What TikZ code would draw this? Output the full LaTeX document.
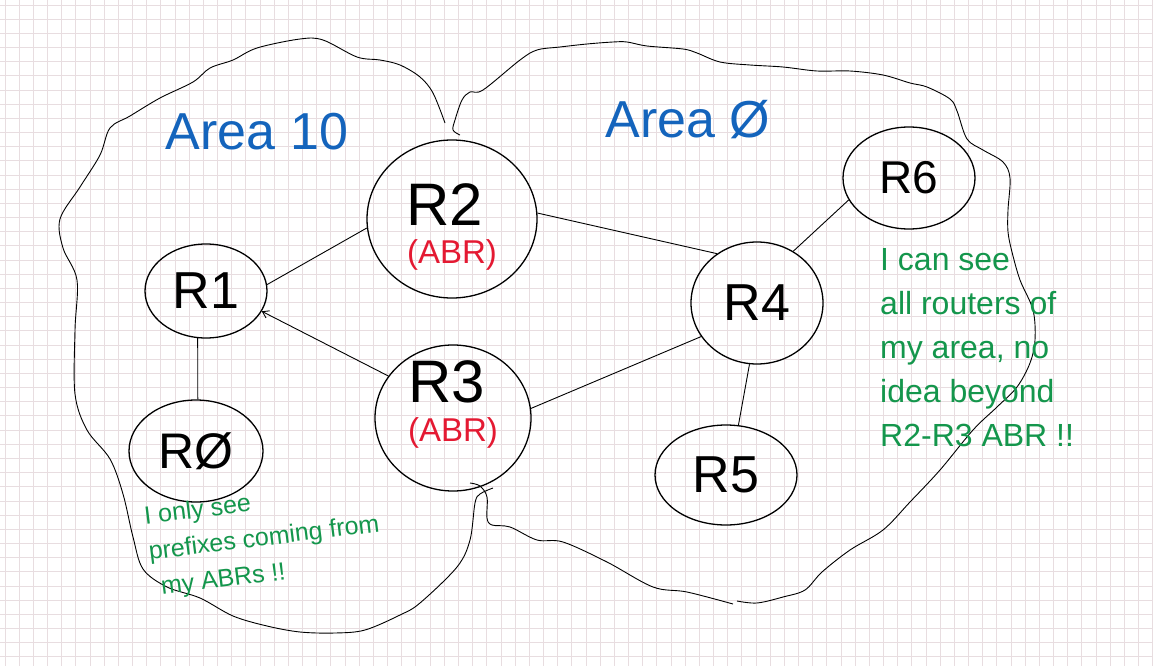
\documentclass[tikz,border=0pt]{standalone}
\usepackage{fontspec}
\setmainfont{Liberation Sans}
\usetikzlibrary{shapes.geometric,arrows.meta}
\definecolor{areablue}{HTML}{1464BC}
\definecolor{abrred}{HTML}{E41932}
\definecolor{notegreen}{HTML}{14964C}
\definecolor{gridpink}{HTML}{E8DDE0}

\begin{document}
\begin{tikzpicture}[x=1pt,y=-1pt,>={Straight Barb[length=6pt,width=8pt]},
  router/.style={ellipse,draw,line width=1.3pt,inner sep=0pt,font=\fontsize{52}{52}\selectfont},
  rname/.style={font=\fontsize{60}{60}\selectfont,inner sep=0pt},
  abr/.style={text=abrred,font=\fontsize{33}{33}\selectfont,inner sep=0pt},
  link/.style={line width=0.9pt},
  border/.style={line width=0.9pt},
  gridline/.style={gridpink,line width=0.9pt},
  areatitle/.style={text=areablue,font=\fontsize{52}{52}\selectfont},
  note/.style={text=notegreen,align=left,inner sep=0pt}]
                \useasboundingbox (0,0) rectangle (1153,666);
                \fill[white] (0,0) rectangle (1153,666);
                \foreach \gx in {0,...,81}
                    \draw[gridline] ({5+14.17*\gx},0) -- ({5+14.17*\gx},666);
                \foreach \gy in {0,...,46}
                    \draw[gridline] (0,{5+14.17*\gy}) -- (1153,{5+14.17*\gy});

                % area 10
                \draw[border] plot[smooth,tension=0.55] coordinates {(445,123) (433,93) (420,77) (400,65) (380,60) (357,57) (323,40) (300,39) (257,48) (233,60) (210,68) (193,82) (160,98) (130,116) (110,128) (100,155) (80,187) (60,219) (63,248) (77,280) (75,330) (75,394) (87,430) (110,459) (123,494) (133,537) (143,569) (167,587) (200,598) (233,616) (267,626) (300,632) (335,633) (365,630) (400,615) (420,603) (457,567) (470,540) (475,503) (480,494) (493,488)};
                % area 0
                \draw[border] plot[smooth,tension=0.55] coordinates {(460,135) (453,130) (455,120) (462,100) (470,92) (483,90) (520,60) (537,50) (560,47) (587,44) (613,42) (627,42) (647,46) (683,49) (697,53) (720,62) (750,65) (783,67) (817,71) (850,71) (883,75) (910,83) (927,87) (950,99) (957,111) (967,139) (983,150) (1003,162) (1010,178) (1008,210) (1008,232) (1012,252) (1020,280) (1033,310) (1035,340) (1030,363) (1017,387) (997,407) (973,430) (940,470) (910,502) (883,530) (850,550) (822,572) (805,590) (783,597) (757,603) (737,601)};
                \draw[border] plot[smooth,tension=0.55] coordinates {(733,604) (687,592) (653,587) (607,562) (563,542) (537,540) (510,527) (492,525) (487,518) (487,497) (480,486) (470,483)};

                \node[areatitle] (area10) at (257,132) {Area 10};
                \node[areatitle] (area0) at (688,120) {Area Ø};

                \node[router,minimum width=122pt,minimum height=94pt] (r1) at (206,291) {R1};
                \node[router,minimum width=134pt,minimum height=102pt,font=\fontsize{50}{50}\selectfont] (r0) at (196,451) {RØ};
                \node[router,minimum width=170pt,minimum height=158pt,
                      label={[rname,xshift=-7pt,yshift=14pt]center:R2},
                      label={[abr,yshift=-36pt]center:(ABR)}] (r2) at (452,219) {};
                \node[router,minimum width=156pt,minimum height=146pt,
                      label={[rname,xshift=-6pt,yshift=36pt]center:R3},
                      label={[abr,yshift=-15pt]center:(ABR)}] (r3) at (453,418) {};
                \node[router,minimum width=132pt,minimum height=122pt] (r4) at (757,303) {R4};
                \node[router,minimum width=142pt,minimum height=100pt] (r5) at (726,475) {R5};
                \node[router,minimum width=132pt,minimum height=102pt,font=\fontsize{46}{46}\selectfont] (r6) at (909,178) {R6};

                \path[link]
                    (r1.6) edge (r2.186)
                    (r1.-100) edge (r0.88)
                    (r2.4) edge (r4.129)
                    (r3.7) edge (r4.211)
                    (r4.263) edge (r5.76)
                    (r4.55) edge (r6.200)
                ;

                \path[link]
                    (r3.147) edge[->] (r1.-20)
                ;

                \node[note,font=\fontsize{25}{36}\selectfont,rotate=7,anchor=north west] (note10) at (143,506) {I only see\\prefixes coming from\\\hspace*{8pt}my ABRs !!};
                \node[note,font=\fontsize{32}{44}\selectfont,anchor=north west] (note0) at (880,248) {I can see\\all routers of\\my area, no\\idea beyond\\R2-R3 ABR !!};
            \end{tikzpicture}
\end{document}
